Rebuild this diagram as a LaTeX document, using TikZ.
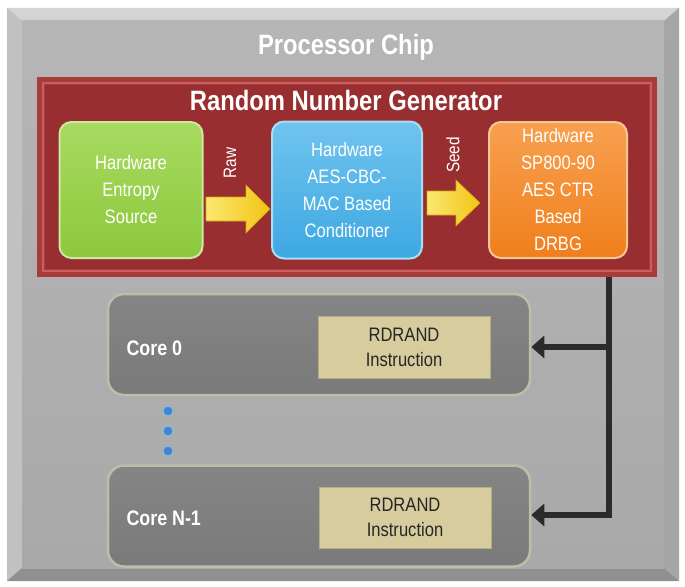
\documentclass[tikz,border=0pt]{standalone}
\usepackage{fontspec}
\setmainfont{Liberation Sans}[FakeStretch=0.85]
\usetikzlibrary{arrows.meta}
\definecolor{chipface}{HTML}{A9A9A9}
\definecolor{chiptop}{HTML}{B6B6B6}
\definecolor{bevlight}{HTML}{D4D4D4}
\definecolor{bevmid}{HTML}{BEBEBE}
\definecolor{bevdark}{HTML}{909090}
\definecolor{redout}{HTML}{A93B3B}
\definecolor{redin}{HTML}{982E2F}
\definecolor{redline}{HTML}{C86060}
\definecolor{grn}{HTML}{8CC83C}
\definecolor{grnlt}{HTML}{A8DA60}
\definecolor{blu}{HTML}{3EA8E2}
\definecolor{blult}{HTML}{70C4EE}
\definecolor{org}{HTML}{F07F1C}
\definecolor{orglt}{HTML}{F8A050}
\definecolor{yel}{HTML}{F2C414}
\definecolor{yellt}{HTML}{FBE870}
\definecolor{coregray}{HTML}{7A7A7A}
\definecolor{coretop}{HTML}{858585}
\definecolor{coreedge}{HTML}{BEBEA6}
\definecolor{beige}{HTML}{D6CC9E}
\definecolor{busblk}{HTML}{2B2B2B}
\definecolor{dotblu}{HTML}{4A80CC}
\tikzset{
  rngbox/.style={rounded corners=12pt, line width=2pt, align=center, text=white,
    font=\fontsize{19.5}{27}\selectfont, inner sep=0pt},
  yarrow/.style={left color=yellt, right color=yel, draw=yel!85!black, line width=0.6pt},
  corebox/.style={rounded corners=16pt, top color=coretop, bottom color=coregray, draw=coreedge, line width=2.5pt,
    minimum width=422pt, minimum height=101pt},
  instbox/.style={fill=beige, draw=beige!85!black, line width=0.6pt, minimum width=172pt,
    minimum height=62pt, align=center, text=black!85, font=\fontsize{19.5}{25}\selectfont, inner sep=0pt},
  corelabel/.style={text=white, font=\bfseries\fontsize{21}{24}\selectfont, anchor=west},
  title/.style={text=white, font=\bfseries\fontsize{28}{30}\selectfont},
  vlabel/.style={text=white, rotate=90, font=\fontsize{18}{20}\selectfont},
  bus/.style={draw=busblk, line width=6pt},
  busarrow/.style={draw=busblk, line width=6pt, -{Triangle[width=22pt,length=13pt]}},
  ddot/.style={circle, fill=dotblu, draw=blult, line width=1pt, minimum size=10pt, inner sep=0pt}
}
\begin{document}
\begin{tikzpicture}[x=1pt,y=-1pt]
\useasboundingbox (0,0) rectangle (685,586);
\fill[white] (0,0) rectangle (685,586);
% chip bevel
\fill[bevmid] (7,8) rectangle (679,581);
\fill[bevlight] (7,8) -- (679,8) -- (664,21) -- (22,21) -- cycle;
\fill[bevmid!95!white] (7,8) -- (22,21) -- (22,568) -- (7,581) -- cycle;
\fill[bevdark!80!white] (679,8) -- (679,581) -- (664,568) -- (664,21) -- cycle;
\fill[bevdark] (7,581) -- (679,581) -- (664,568) -- (22,568) -- cycle;
\shade[top color=chiptop, bottom color=chipface] (22,21) rectangle (664,568);
\node[title] (chip) at (346,47) {Processor Chip};
% RNG box
\fill[redout] (37,77) rectangle (657,277);
\draw[redline, line width=2pt] (43,83) rectangle (651,271);
\fill[redin] (45,85) rectangle (649,269);
\node[title] (rngt) at (346,100) {Random Number Generator};
% blocks
\node[rngbox, top color=grnlt, bottom color=grn, draw=grnlt!60!white, minimum width=143pt, minimum height=136pt] (ent) at (131,190) {Hardware\\Entropy\\Source};
\node[rngbox, top color=blult, bottom color=blu, draw=blult!60!white, minimum width=150pt, minimum height=137pt] (cond) at (347,190) {Hardware\\AES-CBC-\\MAC Based\\Conditioner};
\node[rngbox, top color=orglt, bottom color=org, draw=orglt!60!white, minimum width=138pt, minimum height=136pt] (drbg) at (558,190) {Hardware\\SP800-90\\AES CTR\\Based\\DRBG};
% yellow block arrows
\path[yarrow] (206,197) -- (246,197) -- (246,185) -- (270,209) -- (246,233) -- (246,221) -- (206,221) -- cycle;
\path[yarrow] (427,191) -- (456,191) -- (456,180) -- (480,203) -- (456,226) -- (456,215) -- (427,215) -- cycle;
\node[vlabel] (rawl) at (230,163) {Raw};
\node[vlabel] (seedl) at (453,155) {Seed};
% cores
\node[corebox] (core0) at (319,344.5) {};
\node[corebox] (coreN) at (319,516) {};
\node[corelabel] (c0l) at (123,348) {Core 0};
\node[corelabel] (cNl) at (123,518) {Core N-1};
\node[instbox] (i0) at (404,347) {RDRAND\\Instruction};
\node[instbox, minimum height=61pt] (iN) at (405,517.5) {RDRAND\\Instruction};
% dots
\node[ddot] (d1) at (168,411) {};
\node[ddot] (d2) at (168,431) {};
\node[ddot] (d3) at (168,451) {};
% bus
\coordinate (btop) at (609,277);
\coordinate (bbot) at (609,518);
\coordinate (a0) at (609,347);
\coordinate (aN) at (609,515);
\draw[bus] (btop) -- (bbot);
\draw[busarrow] (a0) -- (core0.east |- a0);
\draw[busarrow] (aN) -- (coreN.east |- aN);
\end{tikzpicture}
\end{document}
